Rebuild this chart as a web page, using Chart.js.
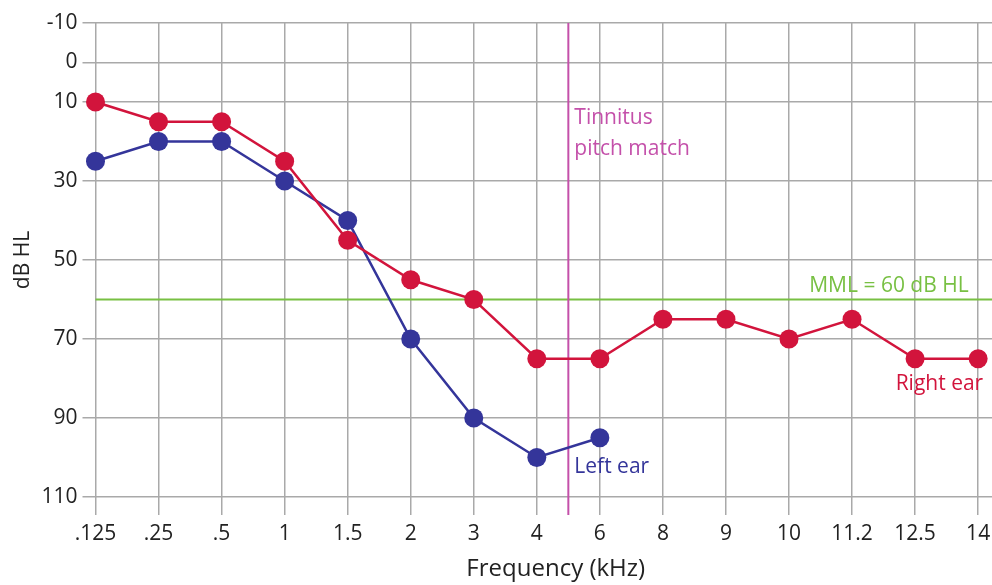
<!DOCTYPE html>
<html>
<head>
<meta charset="utf-8">
<script src="https://cdn.jsdelivr.net/npm/chart.js@4.4.1/dist/chart.umd.min.js"></script>
<style>
  html, body { margin: 0; padding: 0; background: #fff; }
  #wrap { width: 992px; height: 585px; }
</style>
</head>
<body>
<div id="wrap"><canvas id="audiogram"></canvas></div>
<script>
// audiogram: hearing threshold per test frequency
const freqLabels = ['.125', '.25', '.5', '1', '1.5', '2', '3', '4', '6', '8', '9', '10', '11.2', '12.5', '14']
const rightEar = [10, 15, 15, 25, 45, 55, 60, 75, 75, 65, 65, 70, 65, 75, 75]
const leftEar = [25, 20, 20, 30, 40, 70, 90, 100, 95]
const yTicks = [-10, 0, 10, 30, 50, 70, 90, 110]
const mmlLevel = 60
const tinnitusAt = 7.5 // between 4 and 6 kHz

const RED = '#d2143c'
const BLUE = '#34359a'
const GREEN = '#78c043'
const MAGENTA = '#c450aa'
const GRID = '#a9a9a9'
const FONT = '"Open Sans", "Noto Sans", sans-serif'

const toPoints = arr => arr.map((v, i) => ({ x: i, y: v }))

const overlays = {
  id: 'overlays',
  beforeDatasetsDraw (chart) {
    const { ctx, chartArea, scales: { x, y } } = chart
    ctx.save()
    // masking level line
    const yy = y.getPixelForValue(mmlLevel)
    ctx.strokeStyle = GREEN
    ctx.lineWidth = 2
    ctx.beginPath()
    ctx.moveTo(chartArea.left, yy)
    ctx.lineTo(chartArea.right, yy)
    ctx.stroke()
    // tinnitus pitch match
    const xx = x.getPixelForValue(tinnitusAt)
    ctx.strokeStyle = MAGENTA
    ctx.beginPath()
    ctx.moveTo(xx, chartArea.top)
    ctx.lineTo(xx, chartArea.bottom + 18)
    ctx.stroke()
    ctx.restore()
  },
  afterDatasetsDraw (chart) {
    const { ctx, chartArea, scales: { x, y } } = chart
    ctx.save()
    ctx.font = '21px ' + FONT
    ctx.textBaseline = 'alphabetic'

    const tx = x.getPixelForValue(tinnitusAt) + 6
    ctx.fillStyle = MAGENTA
    ctx.textAlign = 'left'
    ctx.fillText('Tinnitus', tx, y.getPixelForValue(15.5))
    ctx.fillText('pitch match', tx, y.getPixelForValue(23.5))

    ctx.fillStyle = GREEN
    ctx.textAlign = 'right'
    ctx.fillText('MML = 60 dB HL', x.getPixelForValue(13.85), y.getPixelForValue(mmlLevel - 1.8))

    ctx.fillStyle = RED
    ctx.fillText('Right ear', x.getPixelForValue(14.08), y.getPixelForValue(83))

    ctx.fillStyle = BLUE
    ctx.textAlign = 'left'
    ctx.fillText('Left ear', tx, y.getPixelForValue(103.8))

    // x axis title, sits a little right of the plot centre
    ctx.fillStyle = '#222'
    ctx.textAlign = 'center'
    ctx.textBaseline = 'middle'
    ctx.font = '24px ' + FONT
    ctx.fillText('Frequency (kHz)', x.getPixelForValue(7.3), chartArea.bottom + 72)
    ctx.restore()
  }
}

new Chart(document.getElementById('audiogram'), {
  type: 'line',
  data: {
    datasets: [
      {
        label: 'Right ear',
        data: toPoints(rightEar),
        borderColor: RED,
        backgroundColor: RED,
        borderWidth: 2.5,
        pointRadius: 9.5,
        pointBorderWidth: 0,
        tension: 0,
        clip: false
      },
      {
        label: 'Left ear',
        data: toPoints(leftEar),
        borderColor: BLUE,
        backgroundColor: BLUE,
        borderWidth: 2.5,
        pointRadius: 9.5,
        pointBorderWidth: 0,
        tension: 0,
        clip: false
      }
    ]
  },
  options: {
    responsive: true,
    maintainAspectRatio: false,
    animation: false,
    layout: { autoPadding: false, padding: { top: 23, right: 0, left: 0, bottom: 0 } },
    plugins: {
      legend: { display: false },
      tooltip: { enabled: false }
    },
    scales: {
      x: {
        type: 'linear',
        min: 0,
        max: 14.22,
        afterBuildTicks: scale => { scale.ticks = freqLabels.map((_, i) => ({ value: i })) },
        afterFit: scale => {
          scale.height = 88
          // let the grid run to the canvas edges
          scale.paddingLeft = 0
          scale.paddingRight = 0
        },
        ticks: {
          callback: v => freqLabels[v],
          color: '#222',
          font: { family: FONT, size: 21 },
          padding: 6,
          maxRotation: 0
        },
        grid: { color: GRID, lineWidth: 1.5, tickLength: 18 },
        border: { display: false }
      },
      y: {
        type: 'linear',
        reverse: true,
        min: -10,
        max: 110,
        afterBuildTicks: scale => { scale.ticks = yTicks.map(v => ({ value: v })) },
        afterFit: scale => { scale.width = 95.5 },
        ticks: {
          color: '#222',
          font: { family: FONT, size: 21 },
          padding: 5
        },
        grid: { color: GRID, lineWidth: 1.5, tickLength: 13 },
        border: { display: false },
        title: {
          display: true,
          text: 'dB HL',
          color: '#222',
          font: { family: FONT, size: 21 },
          padding: { top: 10, bottom: 0 }
        }
      }
    }
  },
  plugins: [overlays]
})
</script>
</body>
</html>
